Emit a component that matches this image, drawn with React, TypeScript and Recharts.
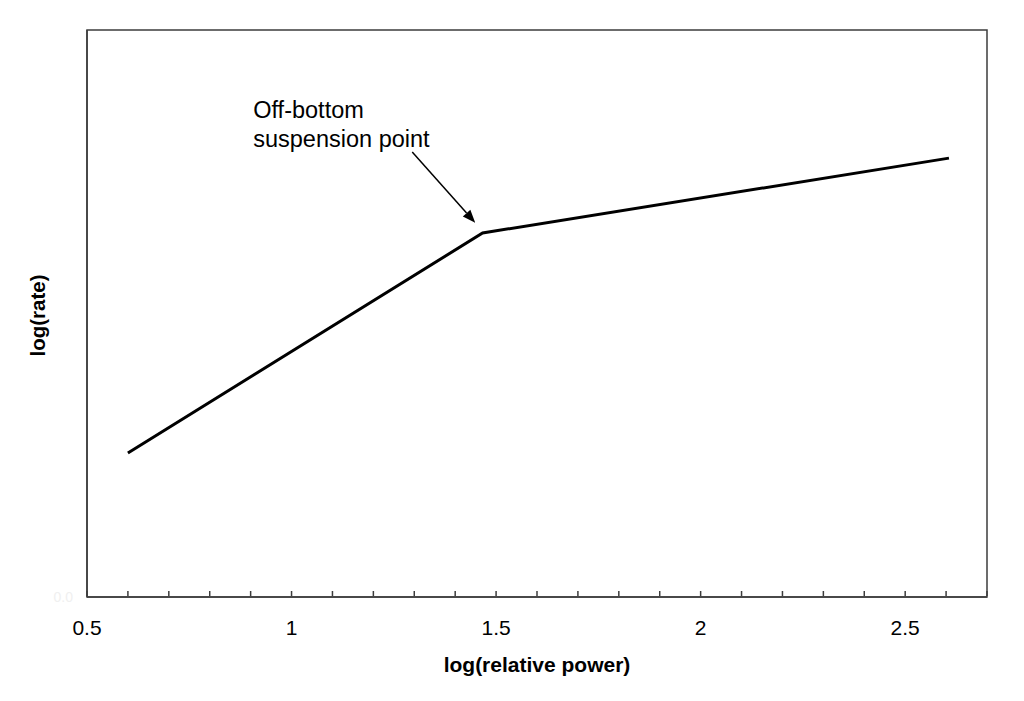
import {
  LineChart,
  Line,
  XAxis,
  YAxis,
  ReferenceArea,
  ReferenceLine,
  Label,
} from 'recharts';

const FONT = '"Liberation Sans", Arial, sans-serif';
const AXIS_COLOR = '#3c3c3c';

// x ticks every 0.1, labelled every 0.5
const xTicks = [0.5, 0.6, 0.7, 0.8, 0.9, 1, 1.1, 1.2, 1.3, 1.4, 1.5, 1.6, 1.7, 1.8, 1.9, 2, 2.1, 2.2, 2.3, 2.4, 2.5, 2.6, 2.7];
const xLabels: Record<string, string> = { '0.5': '0.5', '1': '1', '1.5': '1.5', '2': '2', '2.5': '2.5' };

// the broken line: log(relative power) vs log(rate)
const powerLog = [0.6, 1.467, 2.607];
const rateLog = [0.254, 0.642, 0.774];

// arrow from the note to the knee
const arrowFrom = { x: 1.295, y: 0.785 };
const arrowTo = { x: 1.449, y: 0.66 };
const noteLines = ['Off-bottom', 'suspension point'];

const data = powerLog.map((x, i) => ({ x, y: rateLog[i] }));

function XTick(props: any) {
  const { x, y, payload } = props;
  const key = String(Math.round(payload.value * 10) / 10);
  const label = xLabels[key];
  return (
    <g>
      <line x1={x} y1={y - 1} x2={x} y2={y - 6} stroke={AXIS_COLOR} strokeWidth={1.5} />
      {label && (
        <text x={x} y={y + 38} textAnchor="middle" fontFamily={FONT} fontSize={21} fill="#000">
          {label}
        </text>
      )}
    </g>
  );
}

function ArrowNote(props: any) {
  const { x1, y1, x2, y2 } = props;
  const dx = x2 - x1;
  const dy = y2 - y1;
  const len = Math.sqrt(dx * dx + dy * dy) || 1;
  const ux = dx / len;
  const uy = dy / len;
  const headLen = 13;
  const headHalf = 5;
  const bx = x2 - ux * headLen;
  const by = y2 - uy * headLen;
  const head = `${x2},${y2} ${bx - uy * headHalf},${by + ux * headHalf} ${bx + uy * headHalf},${by - ux * headHalf}`;
  return (
    <g>
      <line x1={x1} y1={y1} x2={bx} y2={by} stroke="#000" strokeWidth={1.5} />
      <polygon points={head} fill="#000" />
      {noteLines.map((t, i) => (
        <text key={t} x={x1 - 159} y={y1 - 34 + i * 29} fontFamily={FONT} fontSize={23.5} fill="#000">
          {t}
        </text>
      ))}
    </g>
  );
}

function YTitle(props: any) {
  const { viewBox } = props;
  const cy = viewBox.y + viewBox.height / 2 + 2;
  return (
    <text
      x={45}
      y={cy}
      transform={`rotate(-90, 45, ${cy})`}
      textAnchor="middle"
      fontFamily={FONT}
      fontWeight="bold"
      fontSize={20.5}
      fill="#000"
    >
      log(rate)
    </text>
  );
}

function XTitle(props: any) {
  const { viewBox } = props;
  return (
    <text
      x={viewBox.x + viewBox.width / 2}
      y={672}
      textAnchor="middle"
      fontFamily={FONT}
      fontWeight="bold"
      fontSize={21}
      fill="#000"
    >
      log(relative power)
    </text>
  );
}

export default function App() {
  return (
    <div style={{ position: 'absolute', left: 0, top: 0, background: '#fff' }}>
      <LineChart width={1024} height={701} data={data} margin={{ top: 30, right: 37, left: 0, bottom: 0 }}>
        <XAxis
          dataKey="x"
          type="number"
          domain={[0.5, 2.7]}
          ticks={xTicks}
          interval={0}
          tick={<XTick />}
          tickLine={false}
          tickSize={0}
          tickMargin={0}
          height={104}
          axisLine={{ stroke: AXIS_COLOR, strokeWidth: 1.5 }}
        >
          <Label content={<XTitle />} />
        </XAxis>
        <YAxis
          type="number"
          domain={[0, 1]}
          ticks={[0]}
          tickFormatter={() => '0.0'}
          tick={{ fill: '#f0f0f0', fontSize: 14, fontFamily: FONT }}
          tickLine={false}
          tickSize={0}
          tickMargin={14}
          width={87}
          axisLine={{ stroke: AXIS_COLOR, strokeWidth: 1.5 }}
        >
          <Label content={<YTitle />} />
        </YAxis>
        <ReferenceArea x1={0.5} x2={2.7} y1={0} y2={1} fill="none" stroke={AXIS_COLOR} strokeWidth={1.5} fillOpacity={0} />
        <Line
          type="linear"
          dataKey="y"
          stroke="#000"
          strokeWidth={3}
          dot={false}
          isAnimationActive={false}
        />
        <ReferenceLine segment={[arrowFrom, arrowTo]} shape={<ArrowNote />} />
      </LineChart>
    </div>
  );
}
